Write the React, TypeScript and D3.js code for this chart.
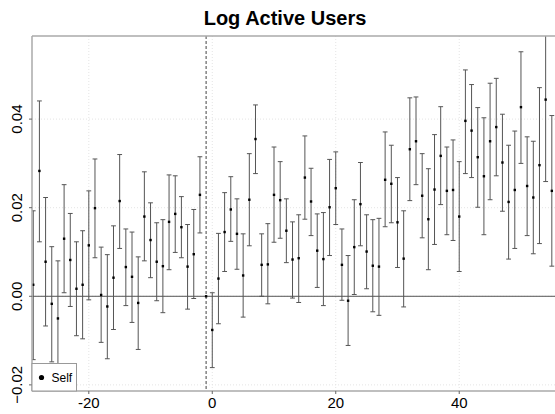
import React from "react";
import * as d3 from "d3";

const periods: number[] = d3.range(-29, 56);
const estimates: number[] = [
  0.0026, 0.0283, 0.0078, -0.0017, -0.005, 0.013, 0.0082, 0.0017, 0.0026, 0.0115,
  0.0199, 0.0003, -0.0023, 0.0042, 0.0215, 0.0066, 0.0044, -0.0015, 0.018, 0.0127,
  0.0078, 0.0068, 0.0168, 0.0186, 0.0156, 0.0067, 0.0095, 0.0229, 0.0,
  -0.0076, 0.004, 0.0145, 0.0196, 0.0141, 0.0047, 0.0218, 0.0355, 0.0071, 0.0072,
  0.0229, 0.0217, 0.0148, 0.0083, 0.0086, 0.0268, 0.0214, 0.0103, 0.0084, 0.0201,
  0.0244, 0.0071, -0.001, 0.0111, 0.0208, 0.0101, 0.0069, 0.0067, 0.0263, 0.0254,
  0.0167, 0.0085, 0.0332, 0.035, 0.0227, 0.0174, 0.0241, 0.0317, 0.0238, 0.024,
  0.018, 0.0396, 0.0374, 0.0314, 0.0271, 0.035, 0.0382, 0.0302, 0.0213, 0.024,
  0.0427, 0.0249, 0.0223, 0.0296, 0.0444, 0.0238,
];
const upper: number[] = [
  0.0193, 0.0441, 0.0223, 0.0112, 0.008, 0.0252, 0.0187, 0.0123, 0.0148, 0.0238,
  0.031, 0.0111, 0.0094, 0.0159, 0.032, 0.0152, 0.0145, 0.0089, 0.0281, 0.0211,
  0.0166, 0.0173, 0.0274, 0.0272, 0.0225, 0.0162, 0.0196, 0.0315, 0.0,
  0.0008, 0.0142, 0.0234, 0.027, 0.022, 0.0141, 0.0322, 0.0432, 0.0141, 0.0164,
  0.0337, 0.0304, 0.022, 0.0168, 0.0184, 0.0362, 0.0289, 0.0186, 0.0189, 0.0309,
  0.0326, 0.0152, 0.0092, 0.0218, 0.0302, 0.0184, 0.0173, 0.0176, 0.0371, 0.0341,
  0.0268, 0.0193, 0.0448, 0.045, 0.0322, 0.0288, 0.0365, 0.0428, 0.0337, 0.0353,
  0.0304, 0.0511, 0.0478, 0.0426, 0.0403, 0.0481, 0.0492, 0.0411, 0.0341, 0.0373,
  0.0552, 0.036, 0.035, 0.0471, 0.0629, 0.0408,
];
const lower: number[] = [
  -0.0143, 0.0123, -0.0067, -0.0148, -0.018, 0.0008, -0.0023, -0.0089, -0.0096, -0.0008,
  0.0087, -0.0104, -0.0141, -0.0075, 0.0108, -0.0021, -0.0059, -0.012, 0.008, 0.0042,
  -0.001, -0.0037, 0.006, 0.0099, 0.0087, -0.0029, -0.0005, 0.0143, 0.0,
  -0.0161, -0.0062, 0.0056, 0.0124, 0.0061, -0.0047, 0.0114, 0.0277, 0.0, -0.0017,
  0.0122, 0.0131, 0.0076, -0.0004, -0.0014, 0.0174, 0.0137, 0.002, -0.0021, 0.0092,
  0.0162, -0.0009, -0.0111, 0.0004, 0.0114, 0.0017, -0.0035, -0.0043, 0.0157, 0.0166,
  0.0065, -0.0024, 0.0216, 0.0252, 0.0132, 0.006, 0.0117, 0.0207, 0.0139, 0.0126,
  0.0056, 0.0277, 0.0268, 0.0201, 0.0139, 0.0218, 0.0272, 0.0192, 0.0084, 0.0108,
  0.03, 0.0137, 0.0096, 0.0119, 0.0259, 0.0068,
];
const xTicks: number[] = [-20, 0, 20, 40];
const yTicks: number[] = [-0.02, 0, 0.02, 0.04];
const eventPeriod = -1;
const title = "Log Active Users";
const legendLabel = "Self";

const W = 555;
const H = 414;
const L = 32;
const R = 558;
const T = 36;
const B = 391;

export default function App() {
  const x = d3.scaleLinear().domain([-29.2, 56]).range([L, R]);
  const y = d3.scaleLinear().domain([-0.02138, 0.05876]).range([B, T]);
  const font = "Liberation Sans, Arial, Helvetica, sans-serif";
  const cap = 2.4;

  return (
    <svg
      width={W}
      height={H}
      style={{ position: "absolute", left: 0, top: 0, overflow: "hidden", background: "#fff" }}
    >
      <defs>
        <clipPath id="plotclip">
          <rect x={L} y={T} width={R - L} height={B - T} />
        </clipPath>
      </defs>
      <text
        x={285}
        y={25}
        textAnchor="middle"
        fontFamily={font}
        fontWeight="bold"
        fontSize={20}
        fill="#000"
      >
        {title}
      </text>
      {/* grid */}
      <g stroke="#e4e4e4" strokeWidth={1} strokeDasharray="1,2">
        {xTicks.map((t) => (
          <line key={"gx" + t} x1={x(t)} x2={x(t)} y1={T} y2={B} />
        ))}
        {yTicks.map((t) => (
          <line key={"gy" + t} x1={L} x2={R} y1={y(t)} y2={y(t)} />
        ))}
      </g>
      {/* zero line */}
      <line x1={L} x2={R} y1={y(0)} y2={y(0)} stroke="#555" strokeWidth={1} />
      {/* event line */}
      <line
        x1={x(eventPeriod)}
        x2={x(eventPeriod)}
        y1={T}
        y2={B}
        stroke="#444"
        strokeWidth={1}
        strokeDasharray="3,2"
      />
      {/* error bars */}
      <g clipPath="url(#plotclip)" stroke="#555" strokeWidth={1}>
        {periods.map((p, i) =>
          upper[i] === lower[i] ? null : (
            <g key={"e" + p}>
              <line x1={x(p)} x2={x(p)} y1={y(upper[i])} y2={y(lower[i])} />
              <line x1={x(p) - cap} x2={x(p) + cap} y1={y(upper[i])} y2={y(upper[i])} />
              <line x1={x(p) - cap} x2={x(p) + cap} y1={y(lower[i])} y2={y(lower[i])} />
            </g>
          )
        )}
      </g>
      <g fill="#000">
        {periods.map((p, i) => (
          <rect key={"p" + p} x={x(p) - 1.2} y={y(estimates[i]) - 1.2} width={2.4} height={2.4} />
        ))}
      </g>
      {/* frame */}
      <g stroke="#aaa" strokeWidth={1.5} fill="none">
        <line x1={L} x2={L} y1={T} y2={B} />
        <line x1={L} x2={R} y1={T} y2={T} />
        <line x1={L} x2={R} y1={B} y2={B} />
      </g>
      {/* x ticks */}
      <g>
        {xTicks.map((t) => (
          <g key={"xt" + t}>
            <line x1={x(t)} x2={x(t)} y1={B} y2={B + 3} stroke="#666" />
            <text
              x={x(t)}
              y={407.5}
              textAnchor="middle"
              fontFamily={font}
              fontSize={15}
              fill="#000"
            >
              {t}
            </text>
          </g>
        ))}
      </g>
      {/* y ticks */}
      <g>
        {yTicks.map((t) => (
          <g key={"yt" + t}>
            <line x1={L - 3} x2={L} y1={y(t)} y2={y(t)} stroke="#666" />
            <text
              transform={`translate(22,${y(t)}) rotate(-90)`}
              textAnchor="middle"
              fontFamily={font}
              fontSize={15}
              fill="#000"
            >
              {d3.format(".2f")(t)}
            </text>
          </g>
        ))}
      </g>
      {/* legend */}
      <g>
        <rect x={32} y={363.5} width={44.5} height={27.5} fill="#fff" stroke="#999" strokeWidth={1} />
        <circle cx={41.5} cy={377.5} r={2.6} fill="#000" />
        <text x={51.5} y={382} fontFamily={font} fontSize={12} fill="#000">
          {legendLabel}
        </text>
      </g>
    </svg>
  );
}
